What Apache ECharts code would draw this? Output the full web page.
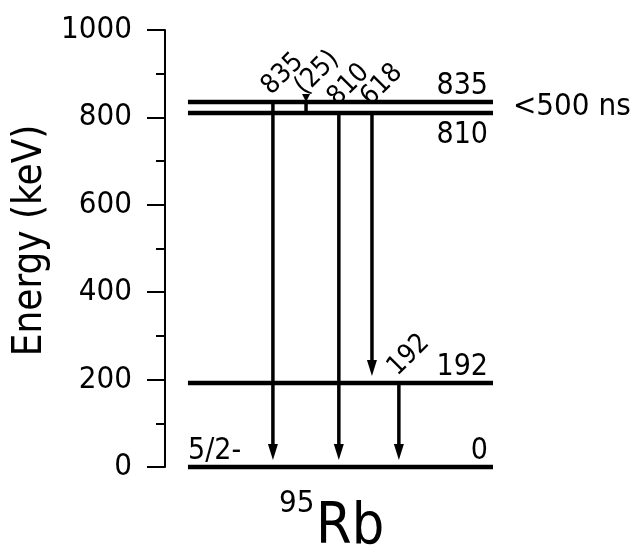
<!DOCTYPE html>
<html>
<head>
<meta charset="utf-8">
<script src="https://cdn.jsdelivr.net/npm/echarts@6/dist/echarts.min.js"></script>
<style>html,body{margin:0;padding:0;background:#fff;}#main{width:636px;height:554px;}</style>
</head>
<body>
<div id="main"></div>
<script>
// ---- data ----
const massNumber = '95';
const element = 'Rb';
const levelEnergy = [0, 192, 810, 835];
const levelLabel = ['0', '192', '810', '835'];
const levelSpin = ['5/2-', '', '', ''];
const levelHalfLife = ['', '', '', '<500 ns'];
const gammaFrom = [835, 835, 810, 810, 192];
const gammaTo = [0, 810, 0, 192, 0];
const gammaLabel = ['835', '(25)', '810', '618', '192'];
const gammaPos = [32.9, 43.0, 53.0, 63.1, 71.3]; // horizontal position (% of x range)
const yTicks = [0, 200, 400, 600, 800, 1000];

const FONT = '"DejaVu Sans Condensed", "DejaVu Sans", sans-serif';
const LEVEL_START = 7.0; // level lines start a little right of the axis
const chart = echarts.init(document.getElementById('main'), null, {renderer: 'canvas'});

function levelRender(params, api) {
  const i = params.dataIndex;
  const E = api.value(0);
  const p1 = api.coord([LEVEL_START, E]);
  const p2 = api.coord([100, E]);
  const children = [{
    type: 'line',
    shape: {x1: p1[0], y1: p1[1], x2: p2[0], y2: p2[1]},
    style: {stroke: '#000', lineWidth: 4.5}
  }];
  const closeAbove = levelEnergy.some(e => e > E && e - E < 60);
  children.push({
    type: 'text', x: p2[0] - 5, y: closeAbove ? p2[1] + 7 : p2[1] - 1,
    style: {text: levelLabel[i], fill: '#000', font: '30px ' + FONT,
      align: 'right', verticalAlign: closeAbove ? 'top' : 'bottom'}
  });
  if (levelSpin[i]) {
    children.push({
      type: 'text', x: p1[0], y: p1[1] - 1,
      style: {text: levelSpin[i], fill: '#000', font: '30px ' + FONT,
        align: 'left', verticalAlign: 'bottom'}
    });
  }
  if (levelHalfLife[i]) {
    children.push({
      type: 'text', x: p2[0] + 20, y: p2[1] + 5,
      style: {text: levelHalfLife[i], fill: '#000', font: '31px ' + FONT,
        align: 'left', verticalAlign: 'middle'}
    });
  }
  return {type: 'group', children};
}

function gammaRender(params, api) {
  const i = params.dataIndex;
  const x = api.value(0), from = api.value(1), to = api.value(2);
  const p1 = api.coord([x, from]);
  const p2 = api.coord([x, to]);
  const dist = p2[1] - p1[1];
  const children = [];
  if (dist > 30) {
    const tip = p2[1] - 7;
    const hl = 16, hw = 5;
    children.push({type: 'line', shape: {x1: p1[0], y1: p1[1], x2: p2[0], y2: tip - hl + 2},
      style: {stroke: '#000', lineWidth: 3.5}});
    children.push({type: 'polygon', shape: {points: [[p2[0], tip], [p2[0] - hw, tip - hl], [p2[0] + hw, tip - hl]]},
      style: {fill: '#000'}});
  } else {
    children.push({type: 'line', shape: {x1: p1[0], y1: p1[1], x2: p2[0], y2: p2[1]},
      style: {stroke: '#000', lineWidth: 3.5}});
    children.push({type: 'polygon', shape: {points: [[p1[0], p1[1]], [p1[0] - 4, p1[1] - 8], [p1[0] + 4, p1[1] - 8]]},
      style: {fill: '#000'}});
  }
  children.push({
    type: 'text', x: p1[0] + 3, y: p1[1] - 2, rotation: Math.PI / 4,
    style: {text: gammaLabel[i], fill: '#000', font: '27px ' + FONT,
      align: 'left', verticalAlign: 'bottom'}
  });
  return {type: 'group', children};
}

const option = {
  backgroundColor: '#fff',
  animation: false,
  grid: {left: 165, right: 143, top: 30, bottom: 87, containLabel: false},
  xAxis: {type: 'value', min: 0, max: 100, show: false},
  yAxis: {
    type: 'value', min: 0, max: 1000, interval: 200,
    name: 'Energy (keV)', nameLocation: 'middle', nameGap: 114,
    nameTextStyle: {fontFamily: FONT, fontSize: 40, color: '#000', padding: [0, 0, 0, 16]},
    axisLine: {show: true, lineStyle: {color: '#000', width: 2}},
    axisTick: {show: true, length: 18, lineStyle: {color: '#000', width: 2}},
    minorTick: {show: true, splitNumber: 2, length: 9, lineStyle: {color: '#000', width: 2}},
    splitLine: {show: false},
    axisLabel: {fontFamily: FONT, fontSize: 31, color: '#000', margin: 33,
      formatter: v => yTicks.includes(v) ? String(v) : ''}
  },
  series: [
    {type: 'custom', renderItem: levelRender, clip: false,
      data: levelEnergy.map(e => [e])},
    {type: 'custom', renderItem: gammaRender, clip: false,
      data: gammaPos.map((x, i) => [x, gammaFrom[i], gammaTo[i]])}
  ],
  graphic: [
    {type: 'text', left: 279, top: 488, style: {text: massNumber, fill: '#000', font: '31px ' + FONT}},
    {type: 'text', left: 316, top: 500, style: {text: element, fill: '#000', font: '57px ' + FONT}}
  ]
};
chart.setOption(option);
</script>
</body>
</html>
